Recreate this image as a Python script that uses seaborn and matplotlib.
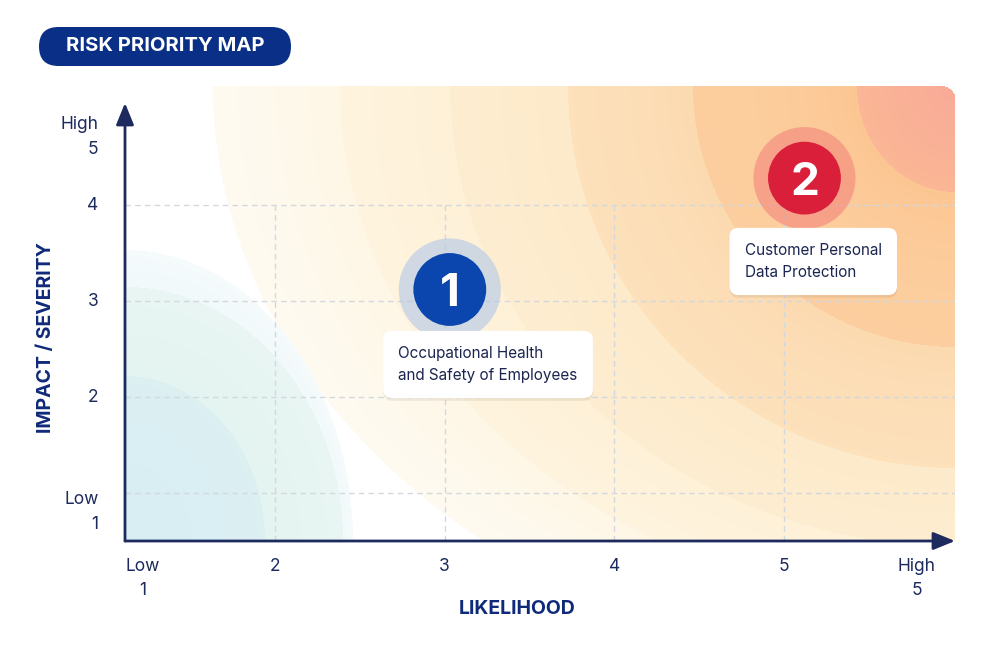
import numpy as np
import matplotlib
matplotlib.use('Agg')
import matplotlib.pyplot as plt
import matplotlib.patheffects as pe
from matplotlib.patches import FancyBboxPatch
from matplotlib.transforms import IdentityTransform
from matplotlib.colors import to_rgb
import seaborn as sns

# data
risk_ids = ['1', '2']
risk_names = ['Occupational Health\nand Safety of Employees',
              'Customer Personal\nData Protection']
likelihood = [3.03, 5.12]
impact = [3.12, 4.28]
risk_colors = ['#0B45AE', '#DA1F3A']
halo_colors = ['#B3C8E8', '#F3877C']

x_ticks = [1.22, 2, 3, 4, 5, 5.78]
x_labels = ['Low\n1', '2', '3', '4', '5', 'High\n5']
y_ticks = [0.8, 2, 3, 4, 4.71]
y_labels = ['Low\n1', '2', '3', '4', 'High\n5']
grid_x = [2, 3, 4, 5]
grid_y = [1, 2, 3, 4]

NAVY = '#1C2A5E'
TXT = '#1B2550'

sns.set_theme(style='white')
plt.rcParams['font.family'] = ['Inter', 'DejaVu Sans']

fig = plt.figure(figsize=(10, 6.66), dpi=100)
ax = fig.add_axes([0.125, 125 / 666, 0.83, 455 / 666])
x0, x1 = 2 - 150 / 169.7, 2 + 680 / 169.7
y0, y1 = 0.5, 4 + 119 / 96


def ring_fill(img, dx, dy, rings, outer_col, fade):
    # rings: list of (rx, ry, colour) from outer to inner
    e = [np.sqrt((dx / rx) ** 2 + (dy / ry) ** 2) for rx, ry, _ in rings]
    cols = [outer_col] + [c for _, _, c in rings]
    n = len(rings)
    for k in range(n):
        if k + 1 < n:
            m = (e[k] <= 1) & (e[k + 1] > 1)
            a = np.clip(e[k + 1] - 1, 0, None)
        else:
            m = e[k] <= 1
            a = e[k]
        b = 1 - e[k]
        t = np.where(a + b > 0, a / np.maximum(a + b, 1e-9), 0)
        c_in = np.array(to_rgb(cols[k + 1]))
        c_out = np.array(to_rgb(cols[k]))
        blend = c_in[None, None, :] + (c_out - c_in)[None, None, :] * (fade * t)[..., None]
        img[m, :3] = blend[m]
    return e


# background rings (pixel grid of the plot area)
H, W = 455, 831
px = 125 + np.arange(W) + 0.5
py = 86 + np.arange(H) + 0.5
PX, PY = np.meshgrid(px, py)
img = np.ones((H, W, 4))
warm = [
    (743, 590, '#FEF7E6'),
    (616, 520, '#FEF1D8'),
    (506, 460, '#FDEACA'),
    (388, 382, '#FCDAB0'),
    (263, 261, '#FCC692'),
    (99, 106, '#F9AA98'),
]
ring_fill(img, 956 - PX, PY - 86, warm, '#FFFFFF', 0.45)
cool = [
    (228, 291, '#F1F9FA'),
    (218, 254, '#E4F4F0'),
    (140, 165, '#D8EEF4'),
]
cimg = img.copy()
ce = ring_fill(cimg, PX - 125, 541 - PY, cool, '#FFFFFF', 0.35)
cool_mask = np.zeros_like(PX, dtype=bool)
for e in ce:
    cool_mask |= e <= 1
img[cool_mask] = cimg[cool_mask]
rc = 15
corner = (PX > 956 - rc) & (PY < 86 + rc) & ((PX - (956 - rc)) ** 2 + (PY - (86 + rc)) ** 2 > rc ** 2)
img[corner, 3] = 0
ax.imshow(img, extent=(x0, x0 + 831 / 169.7, y0, y1), origin='upper',
          aspect='auto', zorder=0, interpolation='bilinear')
ax.set_xlim(x0, x1)
ax.set_ylim(y0, y1)

# grid
ax.hlines(grid_y, x0, x1, colors='#D3D7DE', linestyles=(0, (4, 3)), lw=1, zorder=1)
ax.vlines(grid_x, y0, 4, colors='#D3D7DE', linestyles=(0, (4, 3)), lw=1, zorder=1)

for s in ax.spines.values():
    s.set_visible(False)

# axes arrows
arrow = dict(arrowstyle='-|>,head_length=1.1,head_width=0.45', color=NAVY, lw=2,
             shrinkA=0, shrinkB=0)
ax.annotate('', xy=(x1, y0), xytext=(x0, y0), arrowprops=arrow, annotation_clip=False, zorder=3)
ax.annotate('', xy=(x0, 5.0625), xytext=(x0, y0), arrowprops=arrow, annotation_clip=False, zorder=3)

# ticks
ax.set_xticks(x_ticks, x_labels)
ax.set_yticks(y_ticks, y_labels)
ax.tick_params(axis='x', length=0, pad=12, labelsize=12.5, labelcolor=NAVY)
ax.tick_params(axis='y', length=0, pad=19, labelsize=12.5, labelcolor=NAVY)
for lab in ax.get_xticklabels():
    lab.set_linespacing(1.6)
for lab in ax.get_yticklabels():
    lab.set_linespacing(1.6)
    lab.set_verticalalignment('center')
    lab.set_multialignment('right')

# markers
sns.scatterplot(x=likelihood, y=impact, hue=risk_ids, palette=halo_colors, s=5400,
                alpha=0.62, linewidth=0, legend=False, ax=ax, zorder=4)
sns.scatterplot(x=likelihood, y=impact, hue=risk_ids, palette=risk_colors, s=2750,
                linewidth=0, legend=False, ax=ax, zorder=5)
for xv, yv, rid in zip(likelihood, impact, risk_ids):
    ax.text(xv, yv, rid, color='white', fontsize=33, fontweight='bold',
            ha='center', va='center_baseline', zorder=6)

# label boxes
offsets = [(-37, -54), (-43, -60)]
shadow = [pe.withSimplePatchShadow(offset=(0, -2), shadow_rgbFace='#6B5A40', alpha=0.10)]
for xv, yv, name, off in zip(likelihood, impact, risk_names, offsets):
    ax.annotate(name, xy=(xv, yv), xytext=off, textcoords='offset points',
                ha='left', va='center', fontsize=11, color=TXT, linespacing=1.55,
                bbox=dict(boxstyle='round,pad=1.0,rounding_size=0.6', fc='white', ec='none',
                          path_effects=shadow), zorder=7)

# axis titles
fig.text(517 / 1000, 1 - 609 / 666, 'LIKELIHOOD', ha='center', va='center',
         fontsize=14, fontweight='bold', color='#102A7A')
fig.text(46 / 1000, 1 - 338 / 666, 'IMPACT / SEVERITY', ha='center', va='center',
         rotation=90, fontsize=14, fontweight='bold', color='#102A7A')

# title pill
pill = FancyBboxPatch((39, 600), 252, 39, boxstyle='round,pad=0,rounding_size=19.5',
                      fc='#0A2F86', ec='none', transform=IdentityTransform())
fig.add_artist(pill)
fig.text(165 / 1000, 1 - 46 / 666, 'RISK PRIORITY MAP', ha='center', va='center',
         fontsize=14.5, fontweight='bold', color='white')

fig.savefig('out.png', dpi=100)
